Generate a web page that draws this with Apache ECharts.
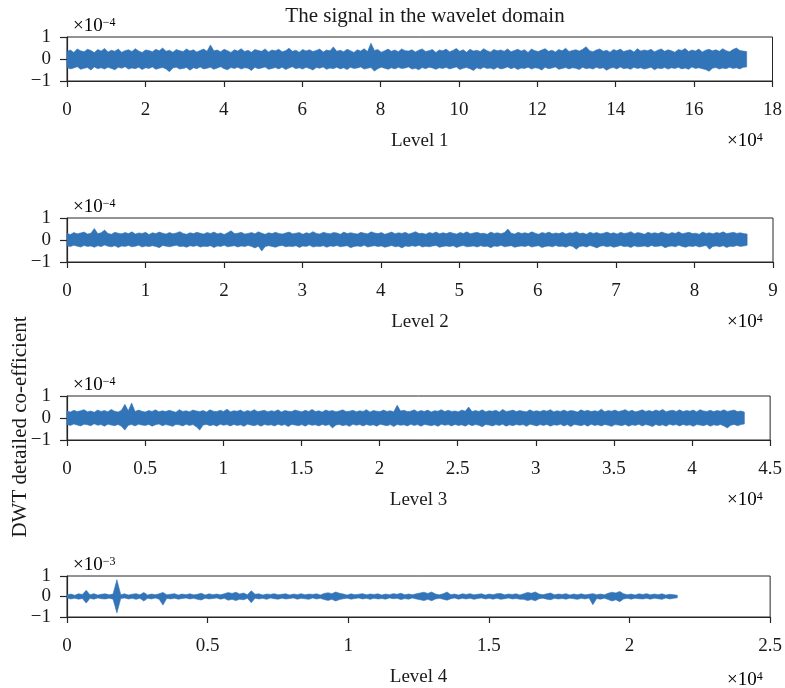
<!DOCTYPE html>
<html>
<head>
<meta charset="utf-8">
<title>The signal in the wavelet domain</title>
<script src="https://cdn.jsdelivr.net/npm/echarts@6/dist/echarts.min.js"></script>
<style>
  html, body { margin: 0; padding: 0; background: #fff; }
  #chart { width: 785px; height: 688px; }
</style>
</head>
<body>
<div id="chart"></div>
<script>
// Detail coefficients per decomposition level, stored as upper / lower envelopes
// sampled evenly along each level's length (values in units of the panel's scale).
const levelNames = ['Level 1', 'Level 2', 'Level 3', 'Level 4'];
const levelLengths = [173400, 86700, 43350, 21700];
const levelAxisMax = [180000, 90000, 45000, 25000];
const levelAxisStep = [20000, 10000, 5000, 5000];
const levelExponents = ['−4', '−4', '−4', '−3'];

const level1Upper = [
  0.34,0.41,0.30,0.46,0.37,0.33,0.44,0.39,0.29,0.43,
  0.36,0.48,0.32,0.40,0.35,0.45,0.31,0.38,0.42,0.34,
  0.47,0.36,0.30,0.41,0.39,0.33,0.44,0.37,0.50,0.35,
  0.40,0.31,0.43,0.38,0.34,0.46,0.36,0.42,0.32,0.39,
  0.45,0.35,0.64,0.37,0.41,0.33,0.44,0.38,0.30,0.42,
  0.36,0.47,0.34,0.40,0.31,0.43,0.39,0.35,0.46,0.32,
  0.41,0.37,0.44,0.33,0.38,0.49,0.35,0.40,0.31,0.43,
  0.36,0.42,0.34,0.39,0.45,0.32,0.41,0.37,0.55,0.35,
  0.40,0.33,0.44,0.38,0.30,0.42,0.36,0.47,0.34,0.72,
  0.39,0.43,0.31,0.37,0.45,0.35,0.41,0.33,0.46,0.38,
  0.36,0.42,0.32,0.40,0.46,0.34,0.38,0.43,0.30,0.41,
  0.37,0.45,0.33,0.39,0.48,0.35,0.42,0.31,0.44,0.36,
  0.40,0.34,0.47,0.38,0.32,0.43,0.37,0.41,0.35,0.46,
  0.33,0.39,0.44,0.36,0.42,0.30,0.45,0.38,0.34,0.41,
  0.47,0.35,0.40,0.32,0.43,0.37,0.49,0.34,0.39,0.42,
  0.36,0.44,0.56,0.38,0.33,0.41,0.46,0.35,0.40,0.31,
  0.43,0.37,0.45,0.34,0.39,0.42,0.32,0.47,0.36,0.41,
  0.38,0.44,0.33,0.40,0.46,0.35,0.42,0.37,0.31,0.43,
  0.39,0.48,0.34,0.41,0.36,0.45,0.32,0.40,0.44,0.37,
  0.42,0.35,0.47,0.38,0.33,0.43,0.50,0.39,0.36,0.34
];
const level1Lower = [
  -0.38,-0.45,-0.41,-0.35,-0.47,-0.42,-0.39,-0.50,-0.36,-0.44,
  -0.40,-0.46,-0.37,-0.43,-0.49,-0.38,-0.42,-0.35,-0.46,-0.41,
  -0.44,-0.37,-0.48,-0.40,-0.43,-0.36,-0.47,-0.42,-0.39,-0.45,
  -0.58,-0.41,-0.37,-0.46,-0.43,-0.39,-0.51,-0.40,-0.44,-0.36,
  -0.45,-0.42,-0.38,-0.47,-0.41,-0.35,-0.44,-0.49,-0.39,-0.43,
  -0.37,-0.46,-0.40,-0.42,-0.52,-0.38,-0.44,-0.41,-0.36,-0.47,
  -0.43,-0.39,-0.45,-0.37,-0.48,-0.41,-0.35,-0.44,-0.40,-0.46,
  -0.38,-0.43,-0.50,-0.39,-0.42,-0.36,-0.47,-0.41,-0.44,-0.37,
  -0.45,-0.40,-0.48,-0.38,-0.43,-0.41,-0.36,-0.46,-0.42,-0.39,
  -0.55,-0.44,-0.37,-0.42,-0.47,-0.40,-0.45,-0.38,-0.43,-0.41,
  -0.36,-0.46,-0.42,-0.49,-0.39,-0.44,-0.37,-0.41,-0.47,-0.40,
  -0.43,-0.38,-0.45,-0.41,-0.36,-0.48,-0.42,-0.39,-0.44,-0.52,
  -0.40,-0.46,-0.37,-0.43,-0.41,-0.47,-0.38,-0.45,-0.42,-0.36,
  -0.44,-0.39,-0.48,-0.41,-0.43,-0.37,-0.46,-0.40,-0.42,-0.50,
  -0.38,-0.44,-0.41,-0.36,-0.47,-0.43,-0.39,-0.45,-0.40,-0.42,
  -0.48,-0.37,-0.44,-0.41,-0.46,-0.38,-0.43,-0.40,-0.51,-0.42,
  -0.39,-0.45,-0.36,-0.44,-0.41,-0.47,-0.38,-0.43,-0.40,-0.46,
  -0.42,-0.37,-0.49,-0.41,-0.44,-0.39,-0.46,-0.40,-0.43,-0.38,
  -0.45,-0.41,-0.47,-0.36,-0.43,-0.40,-0.44,-0.48,-0.56,-0.42,
  -0.39,-0.46,-0.41,-0.44,-0.37,-0.43,-0.40,-0.45,-0.38,-0.36
];

const level2Upper = [
  0.30,0.25,0.34,0.28,0.32,0.36,0.27,0.31,0.52,0.29,
  0.33,0.45,0.30,0.26,0.35,0.31,0.28,0.34,0.29,0.37,
  0.27,0.32,0.30,0.35,0.25,0.33,0.29,0.36,0.31,0.27,
  0.34,0.28,0.32,0.38,0.30,0.26,0.33,0.29,0.35,0.31,
  0.27,0.34,0.30,0.36,0.28,0.32,0.25,0.33,0.42,0.29,
  0.31,0.35,0.27,0.30,0.34,0.28,0.37,0.31,0.26,0.33,
  0.29,0.35,0.30,0.27,0.32,0.36,0.28,0.31,0.34,0.26,
  0.33,0.29,0.38,0.30,0.27,0.35,0.31,0.28,0.34,0.32,
  0.26,0.36,0.29,0.33,0.30,0.27,0.35,0.31,0.28,0.37,
  0.32,0.29,0.34,0.26,0.31,0.36,0.28,0.33,0.30,0.35,
  0.27,0.32,0.38,0.29,0.31,0.26,0.34,0.30,0.36,0.28,
  0.33,0.29,0.35,0.31,0.27,0.34,0.30,0.37,0.28,0.32,
  0.35,0.29,0.31,0.26,0.36,0.30,0.33,0.28,0.34,0.50,
  0.31,0.27,0.35,0.30,0.33,0.29,0.37,0.31,0.26,0.34,
  0.30,0.36,0.28,0.32,0.29,0.35,0.27,0.33,0.31,0.38,
  0.29,0.32,0.26,0.35,0.30,0.34,0.28,0.31,0.36,0.29,
  0.33,0.27,0.35,0.30,0.32,0.38,0.28,0.34,0.31,0.26,
  0.35,0.30,0.33,0.29,0.36,0.31,0.27,0.34,0.30,0.37,
  0.28,0.32,0.35,0.29,0.31,0.26,0.36,0.30,0.33,0.28,
  0.34,0.31,0.37,0.29,0.32,0.35,0.30,0.33,0.29,0.27
];
const level2Lower = [
  -0.26,-0.30,-0.24,-0.28,-0.32,-0.25,-0.29,-0.27,-0.33,-0.26,
  -0.30,-0.23,-0.28,-0.31,-0.26,-0.34,-0.27,-0.29,-0.25,-0.31,
  -0.28,-0.24,-0.32,-0.27,-0.30,-0.26,-0.29,-0.35,-0.25,-0.28,
  -0.31,-0.27,-0.24,-0.30,-0.28,-0.33,-0.26,-0.29,-0.25,-0.32,
  -0.28,-0.30,-0.26,-0.34,-0.27,-0.29,-0.24,-0.31,-0.28,-0.26,
  -0.32,-0.27,-0.30,-0.25,-0.29,-0.36,-0.28,-0.50,-0.30,-0.26,
  -0.29,-0.33,-0.27,-0.25,-0.31,-0.28,-0.30,-0.26,-0.34,-0.27,
  -0.29,-0.24,-0.32,-0.28,-0.30,-0.26,-0.33,-0.27,-0.29,-0.25,
  -0.31,-0.28,-0.26,-0.35,-0.29,-0.27,-0.30,-0.24,-0.32,-0.28,
  -0.26,-0.30,-0.27,-0.33,-0.29,-0.25,-0.31,-0.28,-0.36,-0.27,
  -0.30,-0.26,-0.29,-0.24,-0.32,-0.28,-0.31,-0.27,-0.25,-0.33,
  -0.29,-0.27,-0.30,-0.26,-0.34,-0.28,-0.25,-0.31,-0.29,-0.27,
  -0.32,-0.26,-0.30,-0.28,-0.35,-0.27,-0.29,-0.24,-0.31,-0.28,
  -0.26,-0.33,-0.29,-0.27,-0.30,-0.25,-0.32,-0.28,-0.26,-0.34,
  -0.29,-0.27,-0.31,-0.25,-0.30,-0.28,-0.33,-0.26,-0.29,-0.42,
  -0.30,-0.27,-0.32,-0.25,-0.29,-0.36,-0.28,-0.26,-0.31,-0.27,
  -0.33,-0.29,-0.25,-0.30,-0.28,-0.34,-0.26,-0.31,-0.29,-0.27,
  -0.32,-0.25,-0.30,-0.28,-0.26,-0.35,-0.29,-0.27,-0.31,-0.24,
  -0.29,-0.33,-0.27,-0.30,-0.26,-0.32,-0.28,-0.25,-0.42,-0.29,
  -0.27,-0.31,-0.26,-0.34,-0.28,-0.30,-0.25,-0.29,-0.27,-0.24
];

const level3Upper = [
  0.31,0.27,0.35,0.29,0.33,0.38,0.28,0.32,0.26,0.36,
  0.30,0.34,0.28,0.39,0.31,0.27,0.35,0.62,0.33,0.68,
  0.29,0.36,0.31,0.27,0.34,0.30,0.37,0.28,0.33,0.29,
  0.35,0.31,0.26,0.38,0.30,0.33,0.28,0.36,0.32,0.29,
  0.34,0.27,0.37,0.31,0.29,0.35,0.30,0.40,0.28,0.33,
  0.31,0.36,0.27,0.34,0.30,0.38,0.29,0.32,0.35,0.28,
  0.33,0.30,0.37,0.27,0.34,0.31,0.29,0.36,0.32,0.28,
  0.35,0.30,0.39,0.29,0.33,0.27,0.36,0.31,0.34,0.28,
  0.32,0.37,0.29,0.31,0.35,0.28,0.33,0.30,0.38,0.27,
  0.34,0.31,0.29,0.36,0.30,0.33,0.28,0.58,0.32,0.35,
  0.29,0.31,0.37,0.28,0.34,0.30,0.36,0.27,0.33,0.31,
  0.38,0.29,0.35,0.30,0.32,0.28,0.36,0.31,0.50,0.29,
  0.34,0.30,0.37,0.28,0.33,0.31,0.35,0.27,0.39,0.30,
  0.32,0.36,0.29,0.34,0.31,0.28,0.37,0.30,0.33,0.29,
  0.35,0.31,0.38,0.28,0.33,0.30,0.36,0.29,0.34,0.32,
  0.27,0.37,0.31,0.35,0.29,0.33,0.30,0.40,0.28,0.34,
  0.31,0.36,0.29,0.33,0.38,0.30,0.35,0.28,0.32,0.37,
  0.30,0.34,0.29,0.36,0.31,0.39,0.28,0.33,0.35,0.30,
  0.37,0.29,0.34,0.31,0.36,0.28,0.38,0.32,0.30,0.35,
  0.29,0.34,0.31,0.37,0.30,0.33,0.36,0.29,0.32,0.27
];
const level3Lower = [
  -0.29,-0.34,-0.27,-0.32,-0.36,-0.28,-0.31,-0.35,-0.26,-0.33,
  -0.30,-0.37,-0.28,-0.32,-0.35,-0.29,-0.38,-0.55,-0.33,-0.30,
  -0.36,-0.28,-0.32,-0.34,-0.29,-0.37,-0.31,-0.27,-0.35,-0.30,
  -0.33,-0.38,-0.29,-0.31,-0.36,-0.28,-0.34,-0.30,-0.40,-0.55,
  -0.32,-0.29,-0.35,-0.31,-0.37,-0.28,-0.33,-0.30,-0.36,-0.29,
  -0.34,-0.31,-0.38,-0.28,-0.32,-0.35,-0.30,-0.37,-0.29,-0.33,
  -0.31,-0.36,-0.28,-0.34,-0.30,-0.39,-0.29,-0.32,-0.35,-0.30,
  -0.37,-0.28,-0.33,-0.31,-0.36,-0.29,-0.34,-0.30,-0.45,-0.32,
  -0.29,-0.35,-0.31,-0.38,-0.28,-0.33,-0.30,-0.36,-0.29,-0.34,
  -0.31,-0.37,-0.28,-0.32,-0.35,-0.30,-0.39,-0.29,-0.33,-0.31,
  -0.36,-0.28,-0.34,-0.30,-0.37,-0.29,-0.32,-0.35,-0.31,-0.38,
  -0.28,-0.33,-0.30,-0.36,-0.29,-0.34,-0.31,-0.37,-0.28,-0.35,
  -0.30,-0.33,-0.40,-0.29,-0.32,-0.36,-0.30,-0.34,-0.28,-0.37,
  -0.31,-0.35,-0.29,-0.33,-0.30,-0.38,-0.28,-0.32,-0.36,-0.30,
  -0.34,-0.29,-0.37,-0.31,-0.33,-0.28,-0.36,-0.30,-0.39,-0.29,
  -0.32,-0.35,-0.30,-0.37,-0.28,-0.34,-0.31,-0.36,-0.29,-0.33,
  -0.38,-0.30,-0.32,-0.35,-0.29,-0.37,-0.31,-0.34,-0.28,-0.36,
  -0.30,-0.33,-0.39,-0.29,-0.35,-0.31,-0.37,-0.28,-0.33,-0.30,
  -0.36,-0.29,-0.34,-0.31,-0.38,-0.30,-0.32,-0.35,-0.29,-0.37,
  -0.31,-0.34,-0.30,-0.36,-0.45,-0.33,-0.29,-0.35,-0.30,-0.27
];

const level4Upper = [
  0.07,0.12,0.06,0.13,0.10,0.30,0.08,0.14,0.07,0.11,
  0.13,0.08,0.12,0.82,0.09,0.13,0.07,0.11,0.14,0.08,
  0.20,0.07,0.12,0.09,0.13,0.20,0.08,0.11,0.14,0.07,
  0.12,0.09,0.13,0.08,0.11,0.16,0.07,0.13,0.09,0.12,
  0.08,0.14,0.19,0.15,0.21,0.12,0.17,0.08,0.28,0.11,
  0.13,0.07,0.12,0.10,0.14,0.08,0.11,0.13,0.07,0.12,
  0.09,0.14,0.08,0.12,0.10,0.13,0.07,0.15,0.18,0.14,
  0.22,0.16,0.12,0.07,0.13,0.09,0.11,0.14,0.08,0.12,
  0.10,0.13,0.07,0.12,0.09,0.14,0.11,0.16,0.08,0.12,
  0.09,0.13,0.17,0.21,0.15,0.22,0.12,0.08,0.13,0.22,
  0.09,0.12,0.07,0.13,0.10,0.14,0.08,0.11,0.13,0.07,
  0.12,0.09,0.14,0.15,0.08,0.12,0.10,0.13,0.07,0.14,
  0.20,0.16,0.22,0.12,0.09,0.13,0.17,0.08,0.12,0.10,
  0.14,0.07,0.12,0.09,0.13,0.08,0.11,0.14,0.09,0.12,
  0.08,0.16,0.21,0.17,0.25,0.13,0.09,0.12,0.07,0.13,
  0.10,0.14,0.08,0.12,0.09,0.13,0.07,0.11,0.09,0.06
];
const level4Lower = [
  -0.07,-0.12,-0.08,-0.13,-0.10,-0.32,-0.09,-0.13,-0.07,-0.11,
  -0.12,-0.08,-0.13,-0.80,-0.10,-0.07,-0.12,-0.09,-0.14,-0.08,
  -0.22,-0.09,-0.12,-0.07,-0.13,-0.42,-0.09,-0.12,-0.08,-0.13,
  -0.10,-0.07,-0.12,-0.09,-0.14,-0.17,-0.08,-0.12,-0.10,-0.07,
  -0.13,-0.09,-0.18,-0.14,-0.20,-0.13,-0.16,-0.09,-0.30,-0.08,
  -0.12,-0.09,-0.14,-0.07,-0.11,-0.13,-0.08,-0.12,-0.10,-0.07,
  -0.13,-0.09,-0.11,-0.14,-0.07,-0.12,-0.09,-0.15,-0.19,-0.14,
  -0.22,-0.15,-0.11,-0.08,-0.13,-0.10,-0.07,-0.12,-0.09,-0.14,
  -0.08,-0.12,-0.10,-0.13,-0.07,-0.11,-0.09,-0.15,-0.10,-0.13,
  -0.07,-0.12,-0.16,-0.20,-0.14,-0.21,-0.12,-0.09,-0.13,-0.18,
  -0.11,-0.07,-0.13,-0.09,-0.12,-0.08,-0.14,-0.10,-0.07,-0.12,
  -0.09,-0.13,-0.08,-0.14,-0.11,-0.07,-0.12,-0.10,-0.13,-0.14,
  -0.20,-0.15,-0.21,-0.11,-0.08,-0.13,-0.16,-0.09,-0.12,-0.10,
  -0.13,-0.08,-0.11,-0.14,-0.09,-0.12,-0.07,-0.40,-0.10,-0.13,
  -0.08,-0.15,-0.22,-0.16,-0.25,-0.12,-0.09,-0.13,-0.08,-0.11,
  -0.12,-0.09,-0.13,-0.08,-0.11,-0.14,-0.07,-0.12,-0.09,-0.06
];

const uppers = [level1Upper, level2Upper, level3Upper, level4Upper];
const lowers = [level1Lower, level2Lower, level3Lower, level4Lower];

const FONT = '"Liberation Serif", "DejaVu Serif", serif';
const INK = '#1a1a1a';
const AXIS = '#262626';
const SIGNAL = '#3274b8';

const panelTops = [37, 218, 396, 576];
const panelHeight = 44;

const grids = panelTops.map(top => ({
  left: 67, right: 12, top: top, height: panelHeight,
  show: true, borderColor: AXIS, borderWidth: 1, backgroundColor: 'transparent'
}));

const xAxes = levelNames.map((name, i) => ({
  type: 'value', gridIndex: i, min: 0, max: levelAxisMax[i], interval: levelAxisStep[i],
  name: name, nameLocation: 'middle', nameGap: 51,
  nameTextStyle: { fontFamily: FONT, fontSize: 19, color: INK },
  axisLine: { show: true, onZero: false, lineStyle: { color: AXIS, width: 1.2 } },
  axisTick: { show: true, inside: false, length: 6, lineStyle: { color: AXIS, width: 1.2 } },
  axisLabel: {
    fontFamily: FONT, fontSize: 19, color: INK, margin: 20,
    showMinLabel: true, showMaxLabel: true,
    formatter: v => String(+(v / 10000).toFixed(1))
  },
  splitLine: { show: false }
}));

const yAxes = levelNames.map((_, i) => ({
  type: 'value', gridIndex: i, min: -1, max: 1, interval: 1,
  axisLine: { show: true, onZero: false, lineStyle: { color: AXIS, width: 1.2 } },
  axisTick: { show: true, inside: false, length: 7, lineStyle: { color: AXIS, width: 1.2 } },
  axisLabel: {
    fontFamily: FONT, fontSize: 19, color: INK, margin: 16,
    formatter: v => String(v).replace('-', '−')
  },
  splitLine: { show: false }
}));

// Each level is drawn as a filled band between its upper and lower envelopes.
const series = levelNames.map((_, i) => ({
  type: 'custom', xAxisIndex: i, yAxisIndex: i,
  data: [[0, 0]], silent: true, animation: false,
  renderItem: (params, api) => {
    const up = uppers[i], lo = lowers[i];
    const n = up.length, step = levelLengths[i] / (n - 1);
    const pts = [];
    for (let k = 0; k < n; k++) pts.push(api.coord([k * step, up[k]]));
    for (let k = n - 1; k >= 0; k--) pts.push(api.coord([k * step, lo[k]]));
    return {
      type: 'polygon',
      shape: { points: pts },
      style: { fill: SIGNAL, stroke: SIGNAL, lineWidth: 0.6, lineJoin: 'round' }
    };
  }
}));

const richScale = {
  b: { fontFamily: FONT, fontSize: 19, color: INK, verticalAlign: 'bottom' },
  s: { fontFamily: FONT, fontSize: 12, color: INK, verticalAlign: 'top' }
};

const graphics = [];
panelTops.forEach((top, i) => {
  graphics.push({
    type: 'text', left: 73, top: top - 20,
    style: { text: '{b|×10}{s|' + levelExponents[i] + '}', rich: richScale }
  });
  graphics.push({
    type: 'text', left: 727, top: top + panelHeight + 51,
    style: { text: '{b|×10}{s|4}', rich: richScale }
  });
});
graphics.push({
  type: 'text', x: 20, y: 427, rotation: Math.PI / 2,
  style: {
    text: 'DWT detailed co-efficient', fontFamily: FONT, fontSize: 21, fill: INK,
    align: 'center', verticalAlign: 'middle'
  }
});

const chart = echarts.init(document.getElementById('chart'), null, { renderer: 'canvas' });
chart.setOption({
  backgroundColor: '#fff',
  animation: false,
  title: {
    text: 'The signal in the wavelet domain', left: 420, top: 1, textAlign: 'center',
    textStyle: { fontFamily: FONT, fontSize: 21, fontWeight: 'normal', color: INK }
  },
  grid: grids,
  xAxis: xAxes,
  yAxis: yAxes,
  series: series,
  graphic: graphics
});
</script>
</body>
</html>
